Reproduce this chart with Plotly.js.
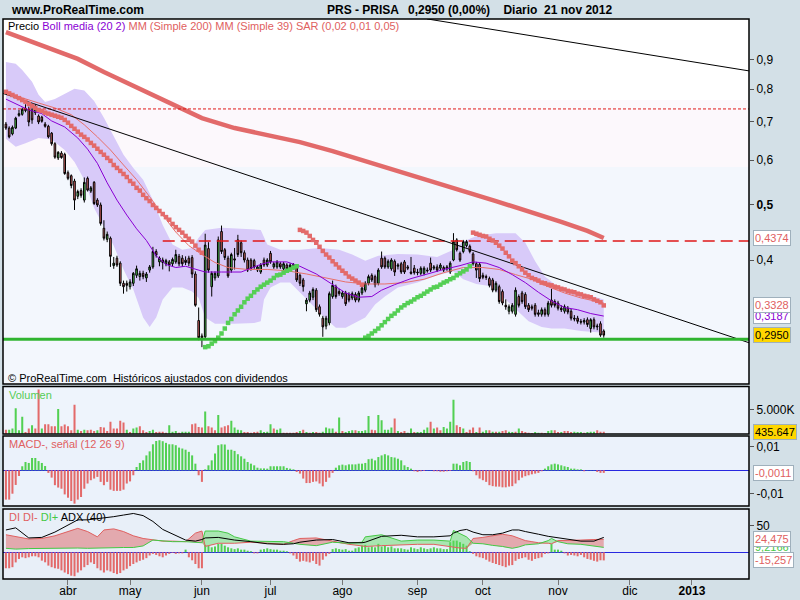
<!DOCTYPE html>
<html><head><meta charset="utf-8">
<script src="https://cdn.plot.ly/plotly-3.0.1.min.js"></script>
<style>html,body{margin:0;padding:0;background:#d3e0e7;}#chart{width:800px;height:600px;}</style>
</head><body><div id="chart"></div>
<script>
// ---------- DATA (trading-day index 0 = 6 mar 2012 ... 183 = 21 nov 2012) ----------
const openP = [
.694,.683,.667,.683,.719,.722,.733,.737,.735,.727,
.717,.714,.694,.688,.669,.641,.605,.617,.614,.570,
.563,.551,.518,.530,.510,.557,.529,.548,.510,.500,
.455,.435,.437,.391,.403,.395,.364,.364,.359,.364,
.376,.374,.379,.372,.384,.389,.414,.397,.400,.394,
.397,.394,.397,.406,.403,.400,.403,.404,.378,.313,
.294,.293,.419,.359,.372,.375,.449,.417,.403,.384,
.402,.434,.429,.412,.400,.400,.399,.384,.381,.400,
.392,.411,.389,.389,.394,.386,.392,.386,.388,.389,
.376,.369,.335,.340,.344,.354,.331,.316,.306,.310,
.345,.359,.352,.345,.350,.348,.343,.348,.340,.350,
.354,.364,.376,.374,.364,.403,.403,.389,.386,.398,
.390,.394,.397,.389,.381,.387,.381,.379,.379,.384,
.395,.387,.389,.387,.388,.386,.381,.400,.434,.411,
.414,.424,.423,.410,.394,.393,.376,.374,.371,.369,
.354,.359,.352,.333,.325,.325,.321,.345,.350,.348,
.333,.331,.333,.323,.321,.327,.321,.340,.338,.336,
.329,.325,.329,.325,.316,.316,.312,.311,.314,.303,
.314,.305,.309,.300];
const highP = [
.700,.688,.690,.715,.735,.742,.752,.745,.748,.752,
.722,.718,.700,.692,.672,.645,.622,.622,.618,.575,
.566,.556,.532,.535,.559,.561,.540,.551,.514,.505,
.470,.449,.440,.405,.407,.398,.368,.368,.370,.381,
.391,.383,.383,.381,.392,.422,.418,.406,.404,.402,
.400,.404,.417,.410,.408,.406,.407,.408,.382,.330,
.297,.445,.430,.382,.382,.440,.460,.420,.407,.412,
.420,.443,.433,.416,.404,.403,.402,.392,.395,.404,
.403,.415,.397,.400,.397,.397,.395,.395,.395,.392,
.379,.372,.343,.353,.358,.357,.334,.319,.319,.352,
.368,.362,.356,.353,.353,.351,.352,.351,.353,.360,
.367,.377,.379,.377,.387,.414,.406,.401,.403,.401,
.395,.397,.400,.392,.405,.392,.386,.390,.390,.388,
.404,.392,.393,.395,.391,.392,.398,.446,.437,.414,
.434,.434,.426,.413,.397,.396,.380,.377,.374,.372,
.367,.362,.355,.341,.334,.336,.358,.348,.353,.351,
.336,.334,.336,.327,.330,.330,.339,.356,.341,.339,
.333,.334,.332,.328,.320,.319,.315,.316,.317,.316,
.317,.309,.312,.302];
const lowP = [
.678,.655,.663,.680,.715,.718,.728,.688,.695,.720,
.694,.698,.684,.655,.636,.603,.600,.603,.565,.553,
.535,.490,.512,.515,.505,.528,.525,.500,.496,.460,
.433,.430,.389,.386,.389,.360,.349,.352,.355,.360,
.372,.368,.370,.366,.380,.386,.404,.390,.385,.390,
.382,.390,.394,.390,.389,.392,.390,.372,.331,.289,
.281,.290,.380,.345,.368,.372,.410,.400,.372,.380,
.385,.405,.405,.396,.381,.383,.386,.381,.378,.389,
.389,.394,.386,.386,.386,.383,.383,.384,.385,.366,
.360,.352,.325,.337,.340,.324,.318,.293,.302,.307,
.342,.342,.346,.342,.332,.337,.340,.337,.337,.347,
.351,.361,.366,.358,.361,.386,.386,.386,.383,.375,
.385,.378,.378,.384,.377,.377,.376,.376,.376,.380,
.381,.384,.381,.384,.381,.383,.378,.398,.414,.397,
.411,.421,.411,.391,.372,.366,.370,.369,.358,.351,
.351,.335,.333,.327,.321,.322,.318,.330,.335,.328,
.324,.326,.318,.318,.318,.318,.318,.330,.330,.326,
.324,.322,.321,.313,.312,.309,.308,.308,.305,.298,
.302,.301,.293,.292];
const closeP = [
.683,.659,.685,.711,.724,.737,.740,.700,.706,.740,
.700,.702,.688,.659,.641,.607,.619,.606,.568,.557,
.541,.510,.528,.520,.548,.531,.536,.503,.500,.464,
.437,.444,.406,.395,.392,.364,.359,.361,.366,.379,
.386,.379,.374,.378,.389,.414,.408,.403,.396,.399,
.392,.401,.409,.394,.394,.396,.395,.378,.333,.292,
.292,.425,.384,.379,.379,.434,.414,.404,.375,.409,
.400,.409,.412,.400,.384,.386,.389,.389,.392,.392,
.400,.397,.394,.397,.389,.394,.386,.392,.393,.369,
.364,.359,.340,.350,.355,.327,.321,.305,.316,.349,
.361,.345,.349,.350,.335,.340,.349,.340,.350,.357,
.364,.374,.369,.362,.384,.389,.389,.398,.400,.381,
.392,.381,.381,.387,.379,.380,.380,.387,.387,.383,
.384,.389,.384,.392,.384,.389,.395,.431,.417,.400,
.431,.431,.414,.394,.384,.371,.373,.373,.361,.354,
.364,.338,.336,.331,.331,.333,.354,.333,.338,.331,
.327,.329,.321,.321,.327,.321,.336,.333,.333,.329,
.327,.331,.324,.316,.315,.312,.311,.313,.308,.314,
.305,.306,.295,.2950];

// Volume in thousands of shares, colour per bar (g = green, r = red)
const volK = [
850,850,1070,5330,710,3550,355,1070,1780,1070,
9230,1070,1990,1990,1560,1560,5180,1560,1920,1560,
710,6040,850,570,850,710,850,570,710,1420,
1280,570,2490,1070,1070,2700,2340,850,355,1070,
1280,1560,710,355,570,850,355,430,430,210,
1780,430,570,210,430,430,430,1990,2130,1420,
1280,4620,1560,1280,710,3900,1280,1560,1780,2700,
1280,850,710,355,355,210,355,430,710,355,
430,1990,1070,850,1070,210,210,210,210,355,
570,850,355,210,355,355,210,430,1280,1070,
1070,430,3410,570,355,570,710,710,570,570,
710,3690,850,710,3900,2840,850,850,1280,3200,
570,355,570,210,1070,355,355,355,850,1280,
2490,1070,1280,710,1420,1070,2490,7100,1780,1420,
1070,355,850,1280,355,1280,430,710,710,430,
430,430,570,710,430,355,430,1070,570,355,
210,140,355,210,210,140,570,710,710,355,
355,570,570,355,430,355,355,210,355,430,
430,710,430,435.647];
const volCol =
"rgggggrrgr"+"rgrrrrgrrr"+"rrgrgrrrgr"+"rrrrrrrgrg"+"grrrggrrrr"+
"gggrgggrrr"+"rgrrrgrrrg"+"gggrrrrrgg"+"ggrggrrrrr"+"grgrgrrggg"+
"grgrgggrgg"+"ggrrgggggr"+"grrggrgggg"+"rgrrggggrr"+"grrrgrggrg"+
"rgrrggrgrr"+"rrggrrggrr"+"grrrgggrgg"+"grrr";

// MACD histogram (12 26 9)
const macdHist = [
-.0124,-.0124,-.0099,-.0062,-.0024,.0017,.0035,.0031,.0052,.0052,
.0039,.0031,.0018,-.0011,-.0031,-.0063,-.0073,-.0078,-.0102,-.0116,
-.0130,-.0141,-.0124,-.0113,-.0078,-.0056,-.0042,-.0035,-.0028,-.0049,
-.0063,-.0049,-.0082,-.0087,-.0087,-.0087,-.0082,-.0056,-.0047,-.0021,
.0014,.0031,.0042,.0063,.0080,.0110,.0124,.0127,.0123,.0116,
.0110,.0110,.0106,.0096,.0092,.0087,.0078,.0063,.0028,-.0021,
-.0049,.0004,.0021,.0042,.0071,.0106,.0110,.0109,.0087,.0087,
.0082,.0068,.0059,.0049,.0035,.0028,.0021,.0011,.0008,.0008,
.0007,.0017,.0017,.0017,.0017,.0017,.0010,.0007,.0004,-.0007,
-.0014,-.0035,-.0054,-.0054,-.0049,-.0047,-.0056,-.0068,-.0049,-.0031,
-.0011,.0011,.0021,.0024,.0021,.0025,.0025,.0025,.0028,.0028,
.0031,.0047,.0049,.0042,.0056,.0063,.0068,.0063,.0056,.0054,
.0049,.0042,.0021,.0014,.0007,-.0004,-.0007,-.0004,-.0003,.0001,
.0001,-.0004,-.0004,-.0006,-.0006,-.0004,-.0003,.0028,.0028,.0021,
.0035,.0039,.0035,-.0004,-.0021,-.0035,-.0042,-.0049,-.0063,-.0067,
-.0069,-.0069,-.0072,-.0072,-.0069,-.0067,-.0056,-.0042,-.0031,-.0025,
-.0021,-.0017,-.0014,-.0011,-.0004,.0007,.0017,.0025,.0028,.0025,
.0021,.0017,.0014,.0007,.0007,.0004,.0004,-.0004,.0001,.0001,
.0001,-.0007,-.0011,-.0011];

// DI histogram (DI+ minus DI-)
const diHist = [
-30,-30,-28,-19,-12.5,-9.4,-11,-9.4,-7.5,-7.5,
-9.4,-15.7,-18.8,-25,-28,-30,-31,-34,-38,-41,
-44,-45,-38,-34,-28,-24,-19,-22,-30,-34,
-38,-34,-36,-39,-41,-39,-34,-31,-26,-22,
-19,-16,-14,-11,-6,-3,-5,-7.5,-9.4,-6,
-3,-1.3,-3,-2,-2,5,-9.4,-15,-22,-30,
-30,14,12.5,9.4,11,16,16,12.5,9.4,7.5,
6,7.5,5,5,3,2,-2,-2,5,6,
7.5,6,5,5,3,3,2,-2,-6,-12.5,
-17.5,-16,-17.5,-19,-16,-22,-25,-14,-7.5,-3,
6,7.5,6,5,6,3,3,7.5,9.4,12.5,
14,9.4,11,9.4,16,11,12.5,9.4,11,7.5,
7.5,7.5,6,5,9.4,7.5,6,9.4,7.5,6,
7.5,9.4,7.5,7.5,6,6,19,22,22,19,
16,12.5,2,-3,-7.5,-9.4,-11,-14,-17.5,-20,
-22,-24,-26,-28,-25,-24,-16,-12.5,-11,-9.4,
-14,-16,-12.5,-11,-9.4,-3,-2,16,5,5,
3,-2,-6,-5,-6,-7.5,-5,-9.4,-12.5,-14,
-16,-17.5,-15,-15.257];

// DI-, DI+, ADX (40) read at these day indices
const diIdx = [0,3,7,11,15,19,22,25,28,30,33,36,39,42,45,48,51,55,58,60,61,65,68,70,75,80,85,88,90,95,100,105,109,110,115,121,126,131,136,137,139,141,143,146,149,152,155,157,159,161,163,166,167,169,172,176,180,183];
const diMinus = [33,29.5,25,26,31,39,45,39,29,42,44,39,31,26,23,21,21,20,36,40,11,17,17,17,19,17,15,22,26,27,21,15,12,11,12.5,14,15,15,11,9,8,7.5,26,28,31,34,31,26,22,20,18,17,16,22,23,23,24,24.475];
const diPlus  = [7.5,6,7,7.5,7.5,9,8,7.5,8,9,9,9,9,12,23,21,20,20,19,18,40,40,36,29,21,21,20,17,15,12.5,19,17,19,29,33,21,23,23,21,41,35,29,17,16,13,11,7.5,10,14,15,16,22,26,20,16,15,12,9.2166];
const adx     = [42,46,27,28,38,51,61,61,63,64,67,70,73,69,58,43,34,23,21,24,27,28,25,23,20,16,15,16,19,23,24,18,18,19,30,32,29,29,31,36,41,43,38,33,33,36,42,42,39,37,34,30,29,27,24,21,21,28];

// Moving averages and Bollinger (20 2), read at these day indices
const smaIdx = [0,10,22,30,40,50,60,70,80,90,100,110,120,130,140,150,160,170,178,183];
const sma200 = [1.008,.960,.904,.857,.804,.756,.711,.683,.664,.645,.622,.598,.574,.551,.529,.508,.488,.467,.450,.4374];
const mmIdx = [0,5,10,15,20,24,28,32,36,40,44,48,52,56,60,64,68,74,80,86,92,98,104,110,116,122,128,134,140,146,151,156,161,166,171,176,183];
const mm39  = [.785,.772,.756,.741,.721,.692,.659,.625,.588,.554,.517,.480,.448,.424,.409,.396,.388,.385,.385,.383,.378,.372,.366,.363,.363,.365,.370,.380,.388,.388,.385,.377,.370,.359,.350,.343,.336];
const bmIdx = [0,3,7,11,14,18,22,25,28,31,34,37,40,43,46,49,52,55,58,61,66,72,78,81,86,90,95,100,104,108,112,115,119,124,129,134,139,143,147,151,155,159,163,167,171,175,179,183];
const bbMid = [.768,.753,.735,.724,.703,.686,.656,.627,.592,.547,.510,.480,.454,.433,.407,.393,.388,.390,.385,.381,.381,.381,.393,.397,.397,.390,.378,.362,.350,.344,.345,.354,.362,.371,.378,.385,.391,.397,.395,.388,.377,.365,.351,.339,.330,.327,.322,.3187];
const buIdx = [0,3,5,8,10,12,15,18,21,24,27,30,33,36,39,42,45,48,51,54,57,59,61,66,72,78,80,84,90,96,102,106,110,114,120,126,132,137,140,144,150,156,159,162,165,170,176,183];
const bbUp  = [.893,.886,.864,.824,.782,.759,.768,.785,.801,.795,.762,.712,.660,.613,.581,.554,.510,.461,.426,.417,.420,.438,.452,.456,.454,.452,.426,.417,.417,.420,.417,.409,.399,.407,.410,.409,.405,.417,.431,.441,.446,.446,.429,.398,.374,.355,.350,.341];
const blIdx = [0,3,6,10,14,18,21,24,27,30,33,36,39,42,44,46,48,51,54,57,59,61,64,70,76,78,79,81,84,87,89,92,95,98,101,104,107,110,113,116,120,126,132,137,140,144,148,152,156,160,164,167,171,176,183];
const bbLo  = [.654,.633,.642,.656,.652,.625,.595,.554,.494,.459,.424,.385,.355,.317,.305,.317,.341,.358,.358,.352,.343,.317,.309,.309,.310,.312,.341,.358,.365,.365,.355,.341,.328,.315,.304,.304,.310,.317,.334,.345,.358,.365,.376,.382,.370,.363,.360,.345,.328,.312,.305,.303,.303,.300,.298];

// Parabolic SAR (0,02 0,01 0,05), one value per day
const sar = [
.791,.786,.781,.776,.771,.765,.760,.753,.747,.741,
.735,.732,.727,.724,.721,.718,.715,.712,.706,.698,
.689,.681,.673,.665,.659,.652,.643,.636,.628,.620,
.613,.605,.598,.588,.581,.574,.567,.560,.551,.545,
.536,.530,.521,.514,.508,.500,.494,.488,.482,.476,
.471,.463,.457,.452,.447,.441,.436,.431,.424,.417,
.412,
.281,.282,.285,.288,.292,.297,.303,.310,.315,
.321,.326,.331,.337,.342,.346,.351,.355,.359,.362,
.365,.368,.372,.376,.377,.380,.383,.385,.388,.390,
.452,.450,.447,.441,.434,.429,.422,.415,.409,.404,
.398,.393,.388,.383,.379,.374,.371,.368,.365,.362,
.292,.294,.297,.300,.303,.307,.311,.315,.319,.322,
.326,.330,.333,.336,.338,.341,.344,.346,.349,.352,
.355,.358,.359,.362,.365,.367,.370,.372,.376,.379,
.382,.385,.390,
.447,.445,.443,.441,.440,.436,.433,
.429,.424,.419,.412,.406,.399,.395,.390,.385,.380,
.376,.372,.370,.368,.365,.364,.362,.361,.359,.358,
.356,.355,.353,.352,.351,.349,.348,.346,.345,.344,
.341,.339,.337,.3328];
const sarSide = "r".repeat(61) + "g".repeat(29) + "r".repeat(20) + "g".repeat(33) + "r".repeat(41);

// Drawn objects
const trend1X = [128.9, 227.5], trend1Y = [1.063, 0.861];
const trend2X = [-0.9, 227.5],  trend2Y = [0.786, 0.286];
const dotLevel = 0.738, dashLevel = 0.432, dashStart = 48, greenLevel = 0.290;

// Axis ticks
const tickIdx = [19,38,60,81,103,126,146,169,191,210];
const tickLab = ['abr','may','jun','jul','ago','sep','oct','nov','dic','<b>2013</b>'];
const priceTicks = [0.4,0.5,0.6,0.7,0.8,0.9];
const priceTickLab = ['0,4','<b>0,5</b>','0,6','0,7','0,8','0,9'];

// ---------- BUILD ----------
const N = closeP.length;
const idx = Array.from({length:N}, (_, i) => i);
const RED = '#e36a6a', GREEN = '#52d052';
const XR = [-0.89, 227.46];
const YR = [-0.6162, 0.0264];
const last = a => a[a.length-1];

const H = 600, T = 19, B = 21, L = 3, R = 51, PW = 800-L-R, PH = H-T-B;
const py = y => (H-B-y)/PH;
const px = x => (x-L)/PW;

const diLow = diMinus.map((v,k)=>Math.min(v, diPlus[k]));

const data = [
  {type:'scatter', mode:'lines', x:blIdx, y:bbLo, xaxis:'x', yaxis:'y', line:{width:0, color:'rgba(0,0,0,0)'}, hoverinfo:'skip'},
  {type:'scatter', mode:'lines', x:buIdx, y:bbUp, xaxis:'x', yaxis:'y', fill:'tonexty', fillcolor:'#d8caf9', line:{width:0, color:'rgba(0,0,0,0)'}, hoverinfo:'skip'},
  {type:'candlestick', x:idx, open:openP, high:highP, low:lowP, close:closeP, xaxis:'x', yaxis:'y5',
   whiskerwidth:0,
   increasing:{line:{color:'#000', width:1}, fillcolor:GREEN},
   decreasing:{line:{color:'#000', width:1}, fillcolor:RED}},
  {type:'scatter', mode:'lines', x:smaIdx, y:sma200, xaxis:'x', yaxis:'y6', line:{color:'#e26a6a', width:4.5}},
  {type:'scatter', mode:'lines', x:mmIdx, y:mm39, xaxis:'x', yaxis:'y6', line:{color:'#e8706a', width:1}},
  {type:'scatter', mode:'lines', x:bmIdx, y:bbMid, xaxis:'x', yaxis:'y6', line:{color:'#8a00d4', width:1}},
  {type:'scatter', mode:'lines', x:XR, y:[dotLevel, dotLevel], xaxis:'x', yaxis:'y6', line:{color:'#e01818', width:1, dash:'3px,2px'}},
  {type:'scatter', mode:'lines', x:[dashStart, XR[1]], y:[dashLevel, dashLevel], xaxis:'x', yaxis:'y6', line:{color:'#e01818', width:1.5, dash:'12px,6px'}},
  {type:'scatter', mode:'lines', x:trend1X, y:trend1Y, xaxis:'x', yaxis:'y6', line:{color:'#000', width:1}},
  {type:'scatter', mode:'lines', x:trend2X, y:trend2Y, xaxis:'x', yaxis:'y6', line:{color:'#000', width:1}},
  {type:'scatter', mode:'markers', x:idx, y:sar, xaxis:'x', yaxis:'y6',
   marker:{symbol:'square', size:4.5, color:sarSide.split('').map(c=>c==='g'?'#55cf55':'#e36a6a'), line:{width:0}}},
  {type:'scatter', mode:'lines', x:XR, y:[greenLevel, greenLevel], xaxis:'x', yaxis:'y6', line:{color:'#30b430', width:3}},
  {type:'bar', x:idx, y:volK, xaxis:'x', yaxis:'y2', width:0.62,
   marker:{color:volCol.split('').map(c=>c==='g'?GREEN:RED), line:{width:0}}},
  {type:'bar', x:idx, y:macdHist, xaxis:'x', yaxis:'y3', width:0.62,
   marker:{color:macdHist.map(v=>v>=0?GREEN:RED), line:{width:0}}},
  {type:'bar', x:idx, y:diHist, xaxis:'x', yaxis:'y4', width:0.62,
   marker:{color:diHist.map(v=>v>=0?GREEN:RED), line:{width:0}}},
  {type:'scatter', mode:'lines', x:diIdx, y:diLow, xaxis:'x', yaxis:'y4', line:{width:0, color:'rgba(0,0,0,0)'}},
  {type:'scatter', mode:'lines', x:diIdx, y:diMinus, xaxis:'x', yaxis:'y4', fill:'tonexty', fillcolor:'rgba(222,100,100,0.5)', line:{width:0, color:'rgba(0,0,0,0)'}},
  {type:'scatter', mode:'lines', x:diIdx, y:diLow, xaxis:'x', yaxis:'y4', line:{width:0, color:'rgba(0,0,0,0)'}},
  {type:'scatter', mode:'lines', x:diIdx, y:diPlus, xaxis:'x', yaxis:'y4', fill:'tonexty', fillcolor:'rgba(90,220,90,0.45)', line:{width:0, color:'rgba(0,0,0,0)'}},
  {type:'scatter', mode:'lines', x:diIdx, y:diMinus, xaxis:'x', yaxis:'y4', line:{color:'#e06060', width:1}},
  {type:'scatter', mode:'lines', x:diIdx, y:diPlus, xaxis:'x', yaxis:'y4', line:{color:'#45c845', width:1}},
  {type:'scatter', mode:'lines', x:diIdx, y:adx, xaxis:'x', yaxis:'y4', line:{color:'#000', width:1}}
];

const FONT = 'Liberation Sans, Arial, sans-serif';
const axBase = {showgrid:false, zeroline:false, showline:false, fixedrange:true, side:'right', anchor:'x',
  ticks:'outside', ticklen:4, tickcolor:'#555', tickfont:{size:12, color:'#000'}};

const fmt = (v, d) => v.toFixed(d).replace('.', ',');
function box(text, yref, y, color, bg) {
  return {xref:'paper', yref:yref, x:1, y:y, xanchor:'left', yanchor:'middle', xshift:4, showarrow:false,
    text:text, font:{size:11, color:color, family:FONT}, bgcolor:bg||'#ffffff', bordercolor:'#9fb0bc', borderwidth:1, borderpad:1};
}
function txt(text, x, y, size, color, anchor) {
  return {xref:'paper', yref:'paper', x:px(x), y:py(y), xanchor:anchor||'left', yanchor:'middle', showarrow:false,
    text:text, font:{size:size, color:color||'#000', family:FONT}};
}
const NB = '\u00a0';

const layout = {
  width:800, height:600, margin:{l:L, r:R, t:T, b:B, pad:0},
  paper_bgcolor:'#d3e0e7', plot_bgcolor:'rgba(0,0,0,0)',
  showlegend:false, hovermode:false, barmode:'overlay',
  font:{family:FONT, size:11, color:'#000'},
  xaxis:{domain:[0,1], anchor:'y4', range:XR, tickvals:tickIdx, ticktext:tickLab, ticks:'outside', ticklen:5,
    ticklabelstandoff:-4, rangeslider:{visible:false},
    tickcolor:'#777', showgrid:false, zeroline:false, showline:false, fixedrange:true, tickfont:{size:12, color:'#000'}},
  yaxis: Object.assign({}, axBase, {domain:[py(384), 1], type:'log', range:YR, tickvals:priceTicks, ticktext:priceTickLab}),
  yaxis5:{overlaying:'y', type:'log', range:YR, visible:false, anchor:'x', fixedrange:true},
  yaxis6:{overlaying:'y', type:'log', range:YR, visible:false, anchor:'x', fixedrange:true},
  yaxis2: Object.assign({}, axBase, {domain:[py(434), py(386.5)], range:[-60, 9870], tickvals:[5000], ticktext:['5.000K']}),
  yaxis3: Object.assign({}, axBase, {domain:[py(506), py(436)], range:[-0.0151, 0.0145], tickvals:[-0.01, 0.01], ticktext:['-0,01','0,01'],
    zeroline:true, zerolinecolor:'#2828e0', zerolinewidth:1.5}),
  yaxis4: Object.assign({}, axBase, {domain:[0, py(509)], range:[-50.2, 81.4], tickvals:[50], ticktext:['50'],
    zeroline:true, zerolinecolor:'#2828e0', zerolinewidth:1.5}),
  shapes:[
    {type:'rect', xref:'paper', yref:'paper', x0:0, x1:1, y0:py(100), y1:1, fillcolor:'#ffffff', line:{width:0}, layer:'below'},
    {type:'rect', xref:'paper', yref:'paper', x0:0, x1:1, y0:py(167), y1:py(100), fillcolor:'#fcf8fc', line:{width:0}, layer:'below'},
    {type:'rect', xref:'paper', yref:'paper', x0:0, x1:1, y0:py(384), y1:py(167), fillcolor:'#f3f7fd', line:{width:0}, layer:'below'},
    {type:'rect', xref:'paper', yref:'paper', x0:0, x1:1, y0:py(434), y1:py(386.5), fillcolor:'#eef4fc', line:{width:0}, layer:'below'},
    {type:'rect', xref:'paper', yref:'paper', x0:0, x1:1, y0:py(506), y1:py(436), fillcolor:'#ebf2fb', line:{width:0}, layer:'below'},
    {type:'rect', xref:'paper', yref:'paper', x0:0, x1:1, y0:0, y1:py(509), fillcolor:'#e8eff8', line:{width:0}, layer:'below'},
    {type:'rect', xref:'paper', yref:'paper', x0:0, x1:1, y0:py(384), y1:1, line:{color:'#000', width:1.5}, layer:'above'},
    {type:'rect', xref:'paper', yref:'paper', x0:0, x1:1, y0:py(434), y1:py(386.5), line:{color:'#000', width:1.5}, layer:'above'},
    {type:'rect', xref:'paper', yref:'paper', x0:0, x1:1, y0:py(506), y1:py(436), line:{color:'#000', width:1.5}, layer:'above'},
    {type:'rect', xref:'paper', yref:'paper', x0:0, x1:1, y0:0, y1:py(509), line:{color:'#000', width:1.5}, layer:'above'}
  ],
  annotations:[
    txt('<b>www.ProRealTime.com</b>', 9, 10, 12),
    txt('<b>PRS - PRISA</b>', 325, 10, 12),
    txt('<b>' + fmt(last(closeP),4) + ' (0,00%)' + NB+NB+NB+NB + 'Diario' + NB+NB + '21 nov 2012</b>', 406, 10, 12),
    txt('Precio <span style="color:#8a00d4">Boll media (20 2)</span> <span style="color:#e06060">MM (Simple 200) MM (Simple 39) SAR (0,02 0,01 0,05)</span>', 6, 26, 11),
    txt('© ProRealTime.com' + NB + NB + 'Históricos ajustados con dividendos', 6, 378, 11),
    txt('Volumen', 7, 395, 11, '#55cc55'),
    txt('MACD-, señal (12 26 9)', 7, 444, 11, '#e06060'),
    txt('<span style="color:#e06060">DI DI-</span> <span style="color:#45c845">DI+</span> ADX (40)', 7, 517, 11),
    box(fmt(last(sma200),4), 'y', Math.log10(last(sma200)), '#e06060'),
    box(fmt(last(bbMid),4), 'y', Math.log10(last(bbMid)), '#8a00d4'),
    box(fmt(last(sar),4), 'y', Math.log10(last(sar)), '#e06060'),
    box(fmt(last(closeP),4), 'y', Math.log10(last(closeP)), '#000', '#ffd700'),
    box('435.647', 'y2', last(volK), '#000', '#ffd700'),
    box(fmt(last(macdHist),4), 'y3', last(macdHist), '#e06060'),
    box(fmt(last(diPlus),4), 'y4', last(diPlus), '#45c845'),
    box(fmt(last(diMinus),3), 'y4', last(diMinus), '#e06060'),
    box(fmt(last(diHist),3), 'y4', last(diHist), '#e06060')
  ]
};

Plotly.newPlot('chart', data, layout, {staticPlot:true, displayModeBar:false});
</script>
</body></html>
